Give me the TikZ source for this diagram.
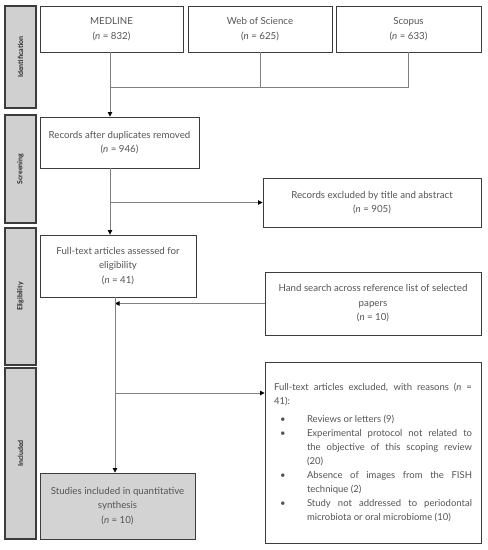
\documentclass[tikz,border=0pt]{standalone}
\usepackage{fontspec}
\setmainfont{Lato}
\usetikzlibrary{arrows.meta,calc}
\definecolor{boxline}{HTML}{3C3C3C}
\definecolor{connline}{HTML}{808080}
\definecolor{boxtext}{HTML}{555555}
\definecolor{sidefill}{HTML}{D0D0D0}
\definecolor{resultfill}{HTML}{D3D3D3}
\newcommand{\reasonlabel}[1]{\hspace{3pt}#1\hfil}
\newenvironment{reasons}{\begin{list}{\textbullet}{\setlength{\leftmargin}{33pt}%
    \setlength{\labelsep}{0pt}\setlength{\labelwidth}{30pt}\setlength{\itemsep}{0pt}%
    \setlength{\parsep}{0pt}\setlength{\topsep}{4pt}\setlength{\partopsep}{0pt}%
    \let\makelabel\reasonlabel}}{\end{list}}

\begin{document}
\begin{tikzpicture}[x=1pt,y=-1pt,
    box/.style={draw=boxline, line width=0.9pt, fill=white, text=boxtext,
      align=center, inner sep=3pt, font=\fontsize{9.7}{14.5}\selectfont},
    sidebox/.style={draw=boxline, line width=1.3pt, fill=sidefill, rotate=90,
      text=black!85, font=\fontsize{7}{8}\selectfont\bfseries},
    conn/.style={draw=connline, line width=0.8pt},
    arr/.style={conn, -{Triangle[width=4.5pt,length=4.5pt,color=black]}}]
  \useasboundingbox (0,0) rectangle (488,550);

  % Phase labels on the left
  \node[sidebox, minimum width=102pt, minimum height=31pt] (ident) at (20.5,57) {Identification};
  \node[sidebox, minimum width=108pt, minimum height=31pt] (screen) at (20.5,169) {Screening};
  \node[sidebox, minimum width=137pt, minimum height=31pt] (elig) at (20.5,296.5) {Eligibility};
  \node[sidebox, minimum width=171pt, minimum height=31pt] (incl) at (20.5,453.5) {Included};

  % Databases
  \node[box, minimum width=143pt, minimum height=46pt] (medline) at (111.5,29) {MEDLINE\\(\textit{n} = 832)};
  \node[box, minimum width=144pt, minimum height=46pt] (wos) at (260,29) {Web of Science\\(\textit{n} = 625)};
  \node[box, minimum width=145pt, minimum height=46pt] (scopus) at (408.5,29) {Scopus\\(\textit{n} = 633)};

  % Screening and eligibility
  \node[box, minimum width=159pt, minimum height=51pt] (dup) at (119.5,142.5) {Records after duplicates removed\\(\textit{n} = 946)};
  \node[box, minimum width=218pt, minimum height=49pt] (titleout) at (372,202.5) {Records excluded by title and abstract\\(\textit{n} = 905)};
  \node[box, minimum width=156pt, minimum height=62pt] (full) at (118,266) {Full-text articles assessed for\\eligibility\\(\textit{n} = 41)};
  \node[box, minimum width=216pt, minimum height=63pt] (hand) at (373,303.5) {Hand search across reference list of selected\\papers\\(\textit{n} = 10)};

  % Included and excluded
  \node[box, fill=resultfill, minimum width=155pt, minimum height=66pt] (studies) at (117.5,506) {Studies included in quantitative\\synthesis\\(\textit{n} = 10)};
  \node[box, text width=198pt, minimum height=181pt, align=justify, inner sep=9pt,
      font=\fontsize{9.5}{14}\selectfont] (fullout) at (373,452.5) {%
    \hyphenpenalty=10000\relax
    Full-text articles excluded, with reasons (\textit{n} =\linebreak 41):
    \begin{reasons}
      \item Reviews or letters (9)
      \item Experimental protocol not related to\linebreak the objective of this scoping review\linebreak (20)
      \item Absence of images from the FISH technique (2)
      \item Study not addressed to periodontal microbiota or oral microbiome (10)
    \end{reasons}};

  % Connectors
  \coordinate (join) at (110,87);
  \coordinate (stem) at (115,297);
  \coordinate (tap) at (115,393);
  \draw[conn] (scopus.south) |- (join);
  \draw[conn] (wos.south) -- (wos.south |- join);
  \draw[arr] (join |- medline.south) -- (join |- dup.north);
  \draw[arr] (join |- dup.south) -- (join |- full.north);
  \draw[arr] (join |- titleout.west) -- (titleout.west);
  \draw[arr] (hand.west) -- (stem |- hand.west);
  \draw[arr] (stem |- full.south) -- (stem |- studies.north);
  \draw[arr] (tap) -- (fullout.west |- tap);
\end{tikzpicture}
\end{document}
